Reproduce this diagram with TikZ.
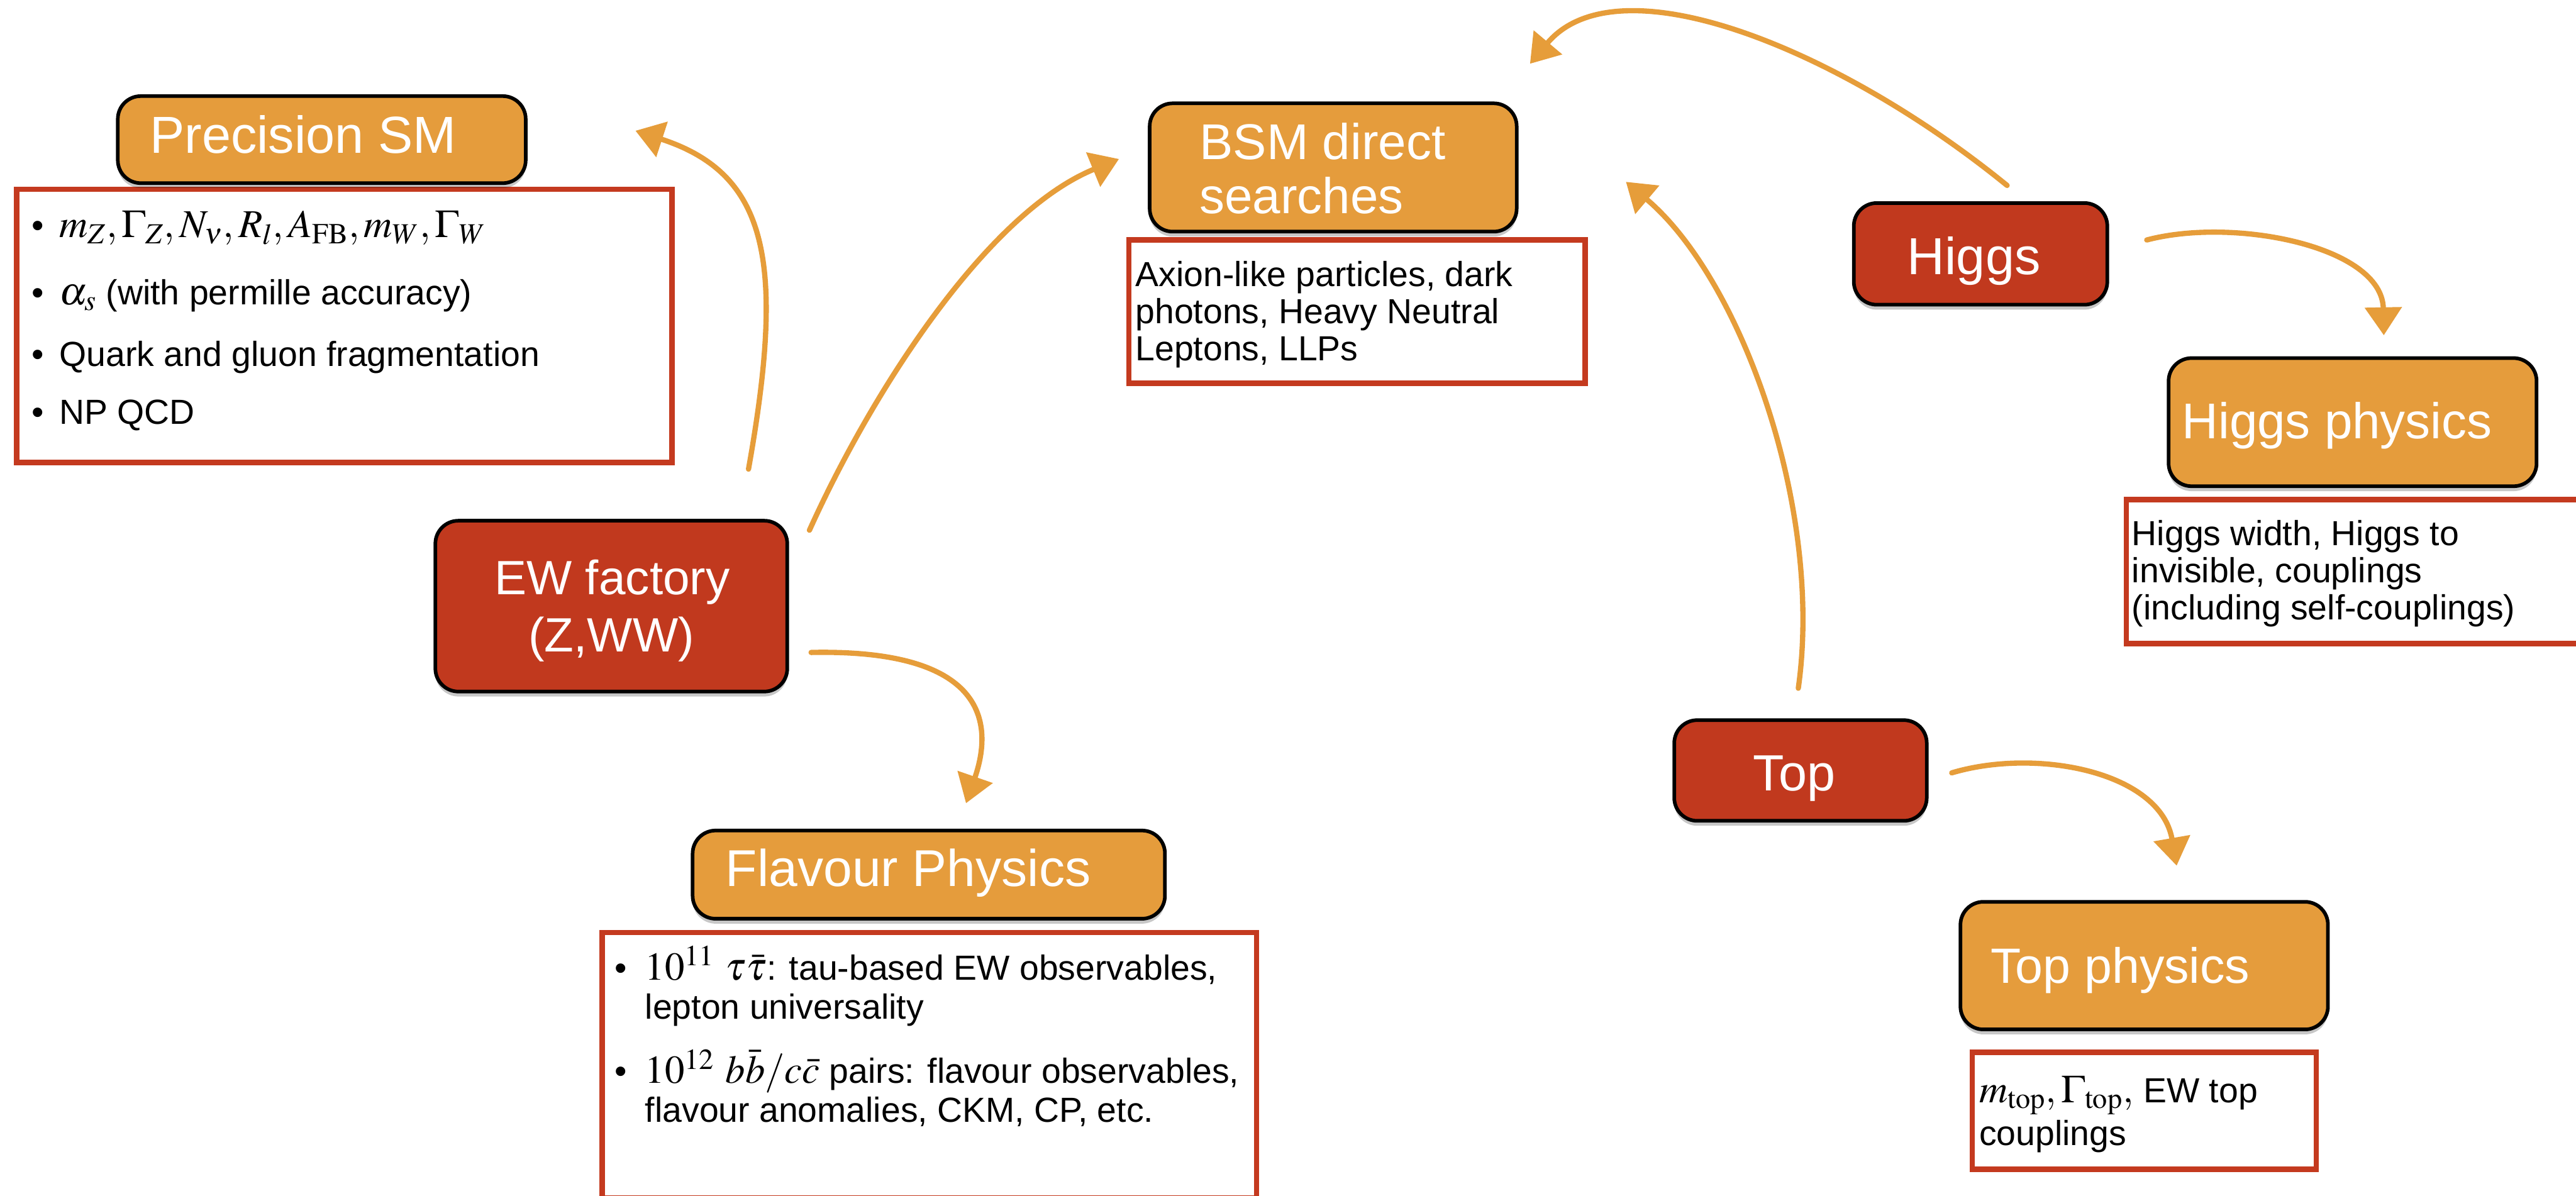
\documentclass[tikz,border=0pt]{standalone}
\usepackage{mathptmx}
\usepackage[no-math]{fontspec}
\setmainfont{Liberation Sans}
\usetikzlibrary{arrows.meta,shadows}

\definecolor{boxorange}{RGB}{229,156,60}
\definecolor{boxred}{RGB}{193,57,30}
\definecolor{listred}{RGB}{196,58,31}
\definecolor{arrowc}{RGB}{230,157,58}

% math set a little larger than the running text
\newcommand{\mthx}[1]{{\fontsize{24}{24}\selectfont$#1$}}

\tikzset{
  orangebox/.style={draw=black, line width=2.2pt, fill=boxorange, rounded corners=14pt,
    inner sep=0pt, outer sep=0pt, anchor=north west,
    drop shadow={shadow xshift=0pt, shadow yshift=-3pt, opacity=0.22, fill=black}},
  redbox/.style={orangebox, fill=boxred},
  listbox/.style={draw=listred, line width=3.2pt, fill=white, inner sep=0pt,
    outer sep=0pt, anchor=north west},
  headtext/.style={text=white, inner sep=0pt, font=\fontsize{31}{31}\selectfont},
  bodytext/.style={text=black, inner sep=0pt, anchor=base west,
    font=\fontsize{21.2}{22.6}\selectfont},
  sketcharrow/.style={draw=arrowc, line width=3.2pt, line cap=round,
    -{Triangle[length=17pt,width=22pt]}},
}

\begin{document}
\begin{tikzpicture}[x=1pt,y=-1pt]
\useasboundingbox (0,0) rectangle (1568,728);
\fill[white] (0,0) rectangle (1568,728);

% ---------- description panels ----------
\node[listbox, minimum width=398.8pt, minimum height=166.4pt] (smlist) at (10.2,115.2) {};
\node[listbox, minimum width=277.8pt, minimum height=87.3pt] (bsmlist) at (687.1,146) {};
\node[listbox, minimum width=305.7pt, minimum height=87.6pt] (hlist) at (1294.3,304.2) {};
\node[listbox, minimum width=398.3pt, minimum height=161.7pt] (fllist) at (366.5,567.8) {};
\node[listbox, minimum width=209.5pt, minimum height=71.2pt] (toplist) at (1200.4,640.6) {};

% ---------- topic boxes ----------
\node[orangebox, minimum width=248.3pt, minimum height=53pt] (sm) at (71.7,58.5) {};
\node[orangebox, minimum width=223.4pt, minimum height=78.1pt] (bsm) at (699.8,62.9) {};
\node[orangebox, minimum width=224pt, minimum height=78pt] (hp) at (1320,218) {};
\node[orangebox, minimum width=223.7pt, minimum height=77.7pt] (tp) at (1193.3,549) {};
\node[orangebox, minimum width=287.5pt, minimum height=53.7pt] (fl) at (421.6,505.6) {};

% ---------- run modes ----------
\node[redbox, minimum width=214.2pt, minimum height=104pt] (ew) at (265,317) {};
\node[redbox, minimum width=154.3pt, minimum height=61.9pt] (higgs) at (1128.4,123.6) {};
\node[redbox, minimum width=153.7pt, minimum height=61.3pt] (top) at (1019.1,438.4) {};

% ---------- box titles ----------
\node[headtext, anchor=base west, font=\fontsize{31.7}{31.7}\selectfont] (smtxt) at (91,93.1) {Precision SM};
\node[headtext, anchor=base west, font=\fontsize{30.6}{30.6}\selectfont] (bsmtxta) at (730,97.2) {BSM direct};
\node[headtext, anchor=base west, font=\fontsize{30.6}{30.6}\selectfont] (bsmtxtb) at (730,130) {searches};
\node[headtext, anchor=base, font=\fontsize{29.3}{29.3}\selectfont] (ewtxta) at (372.7,362.1) {EW factory};
\node[headtext, anchor=base, font=\fontsize{29.3}{29.3}\selectfont] (ewtxtb) at (372.1,396.6) {(Z,WW)};
\node[headtext, anchor=base, font=\fontsize{31.7}{31.7}\selectfont] (higgstxt) at (1201.5,167) {Higgs};
\node[headtext, anchor=base west, font=\fontsize{30.6}{30.6}\selectfont] (hptxt) at (1328,267.1) {Higgs physics};
\node[headtext, anchor=base] (toptxt) at (1092.2,481.2) {Top};
\node[headtext, anchor=base west, font=\fontsize{30.2}{30.2}\selectfont] (tptxt) at (1211.5,598.6) {Top physics};
\node[headtext, anchor=base west, font=\fontsize{31.5}{31.5}\selectfont] (fltxt) at (441.5,539.7) {Flavour Physics};

% ---------- Precision SM panel ----------
\node[bodytext] (smbul1) at (19.3,144.7) {•};
\node[bodytext] (smbul2) at (19.3,185.4) {•};
\node[bodytext] (smbul3) at (19.3,222.9) {•};
\node[bodytext] (smbul4) at (19.3,258.1) {•};
\node[bodytext] (sml1) at (36,144.7) {\mthx{m_Z, \Gamma_Z, N_\nu, R_l, A_{\rm FB}, m_W, \Gamma_W}};
\node[bodytext] (sml2) at (36,185.4) {\mthx{\alpha_s} (with permille accuracy)};
\node[bodytext] (sml3) at (36,222.9) {Quark and gluon fragmentation};
\node[bodytext] (sml4) at (36,258.1) {NP QCD};

% ---------- BSM panel ----------
\node[bodytext] (bsml1) at (691,174.3) {Axion-like particles, dark};
\node[bodytext] (bsml2) at (691,196.8) {photons, Heavy Neutral};
\node[bodytext] (bsml3) at (691,219.7) {Leptons, LLPs};

% ---------- Higgs panel ----------
\node[bodytext] (hl1) at (1297.5,332.1) {Higgs width, Higgs to};
\node[bodytext] (hl2) at (1297.5,354.8) {invisible, couplings};
\node[bodytext] (hl3) at (1297.5,377.1) {(including self-couplings)};

% ---------- Flavour panel ----------
\node[bodytext] (flbul1) at (374,596.7) {•};
\node[bodytext] (flbul2) at (374,659.5) {•};
\node[bodytext] (fll1) at (392.5,596.7) {\mthx{10^{11}\ \tau\bar{\tau}}: tau-based EW observables,};
\node[bodytext] (fll2) at (392.5,620.2) {lepton universality};
\node[bodytext] (fll3) at (392.5,659.5) {\mthx{10^{12}\ b\bar{b}/c\bar{c}} pairs: flavour observables,};
\node[bodytext] (fll4) at (392.5,683) {flavour anomalies, CKM, CP, etc.};

% ---------- Top panel ----------
\node[bodytext] (tl1) at (1204.5,671.2) {\mthx{m_{\rm top}, \Gamma_{\rm top},} EW top};
\node[bodytext] (tl2) at (1204.5,697.4) {couplings};

% ---------- hand-drawn style connectors ----------
\draw[sketcharrow] ([shift={(-23.6,-31.4)}]ew.north east)
  .. controls (478,160) and (468,106) .. ([shift={(66.8,-5.4)}]sm.east);
\draw[sketcharrow] ([shift={(13.5,5.8)}]ew.north east)
  .. controls (530,240) and (600,130) .. ([shift={(-18.7,-5.15)}]bsm.west);
\draw[sketcharrow] ([shift={(14.5,28.2)}]ew.east)
  .. controls (600,395) and (605,440) .. ([shift={(22.65,-16.6)}]fl.north);
\draw[sketcharrow] ([shift={(-1.35,-19.4)}]top.north)
  .. controls (1110,310) and (1060,170) .. ([shift={(66.5,8.75)}]bsm.east);
\draw[sketcharrow] ([shift={(16.15,-10.7)}]higgs.north)
  .. controls (1120,30) and (985,-25) .. ([shift={(8.1,-24.1)}]bsm.north east);
\draw[sketcharrow] ([shift={(24,-8.45)}]higgs.east)
  .. controls (1360,132) and (1450,150) .. ([shift={(19,-13.9)}]hp.north);
\draw[sketcharrow] ([shift={(15.2,1.45)}]top.east)
  .. controls (1240,455) and (1315,470) .. ([shift={(19.75,-22)}]tp.north);
\end{tikzpicture}
\end{document}
